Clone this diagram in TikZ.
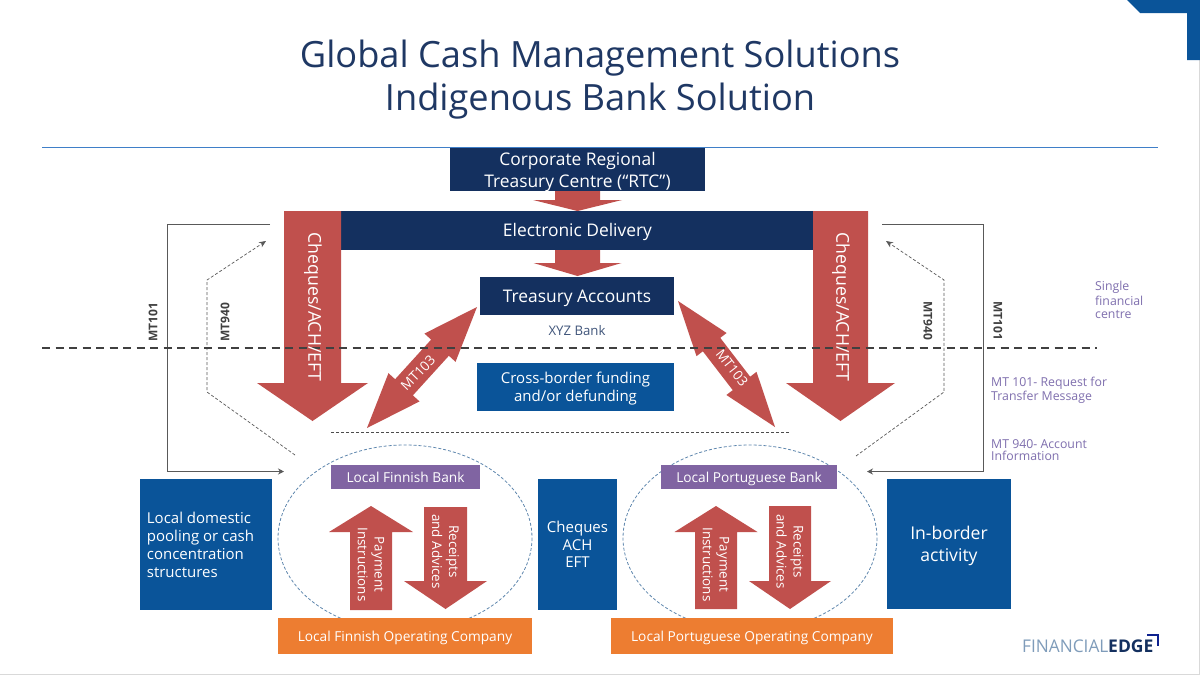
\documentclass[tikz,border=0pt]{standalone}
\usepackage{fontspec}
\setmainfont{Open Sans}
\usetikzlibrary{calc,arrows.meta}
\definecolor{navy}{HTML}{14305F}
\definecolor{bluebox}{HTML}{0A5499}
\definecolor{redarrow}{HTML}{C0504D}
\definecolor{orangebox}{HTML}{ED7D31}
\definecolor{purplebox}{HTML}{8064A2}
\definecolor{notetxt}{HTML}{7F6FAE}
\definecolor{rulecol}{HTML}{3F7FC8}
\definecolor{ringcol}{HTML}{5F87AE}
\definecolor{titlecol}{HTML}{1F3864}
\definecolor{logolight}{HTML}{7F9CBA}
\newcommand{\fsz}[1]{\fontsize{#1}{#1}\selectfont}
\newcommand{\fatarrow}[5]{%
  \coordinate (H) at ($(#2)!#5!(#1)$);
  \fill[redarrow] ($(#1)!#3/2!90:(#2)$) -- ($(H)!#3/2!90:(#2)$) -- ($(H)!#4/2!90:(#2)$) -- (#2)
    -- ($(H)!#4/2!-90:(#2)$) -- ($(H)!#3/2!-90:(#2)$) -- ($(#1)!#3/2!-90:(#2)$) -- cycle;}
\newcommand{\dblarrow}[5]{%
  \coordinate (H) at ($(#2)!#5!(#1)$);
  \coordinate (K) at ($(#1)!#5!(#2)$);
  \fill[redarrow] (#1) -- ($(K)!#4/2!90:(#2)$) -- ($(K)!#3/2!90:(#2)$) -- ($(H)!#3/2!90:(#2)$) -- ($(H)!#4/2!90:(#2)$) -- (#2)
    -- ($(H)!#4/2!-90:(#2)$) -- ($(H)!#3/2!-90:(#2)$) -- ($(K)!#3/2!-90:(#2)$) -- ($(K)!#4/2!-90:(#2)$) -- cycle;}
\tikzset{
  x=1pt,y=-1pt,
  boxbase/.style={inner sep=0pt,outer sep=0pt,text=white,align=center,font=\fsz{#1},text depth=0pt},
  navybox/.style={boxbase=17.4,fill=navy},
  bluesq/.style={boxbase=15,fill=bluebox},
  purpbox/.style={boxbase=13.7,fill=purplebox,minimum height=24pt},
  orabox/.style={boxbase=13.7,fill=orangebox,minimum height=36pt},
  ring/.style={draw=ringcol,densely dashed,line width=0.8pt},
  arrowtxt/.style={text=white,inner sep=0pt,align=center},
  mtlabel/.style={text=black!75,font=\fsz{12}\bfseries,inner sep=0pt},
  notelabel/.style={text=notetxt,font=\fsz{12.3},anchor=west,align=left,inner sep=0pt},
  msgsolid/.style={draw=black!65,line width=0.8pt,-{Stealth[length=6pt,width=6pt]}},
  msgdash/.style={draw=black!65,line width=0.7pt,densely dashed,-{Stealth[length=7pt,width=6pt]}},
}
\begin{document}
\begin{tikzpicture}
\useasboundingbox (0,0) rectangle (1200,675);
\fill[white] (0,0) rectangle (1200,675);
\draw[black!15,line width=1pt] (1199.5,60) -- (1199.5,674.5) -- (0,674.5);
\fill[bluebox] (1127,0) -- (1200,0) -- (1200,60) -- (1187,60) -- (1187,13) -- (1140,13) -- cycle;

% title
\node[text=titlecol,font=\fsz{36.2},inner sep=0pt] (title1) at (600,58.5) {Global Cash Management Solutions};
\node[text=titlecol,font=\fsz{36.2},inner sep=0pt] (title2) at (600,101.5) {Indigenous Bank Solution};
\coordinate (ruleL) at (42,147); \coordinate (ruleR) at (1158,147);
\draw[draw=rulecol,line width=1pt] (ruleL) -- (ruleR);

% rings
\draw[ring] (405,538) ellipse [x radius=127,y radius=93];
\draw[ring] (750,538) ellipse [x radius=127,y radius=93];

% navy boxes
\node[navybox,minimum width=255pt,minimum height=43pt] (rtc) at (577.5,169.5) {Corporate Regional\\[4.5pt]Treasury Centre (“RTC”)};
\node[navybox,minimum width=473pt,minimum height=39pt] (delivery) at (577.5,230) {Electronic Delivery};
\node[navybox,minimum width=194pt,minimum height=38pt] (treasury) at (577,296) {Treasury Accounts};
\node[font=\fsz{13.2},inner sep=0pt,text=titlecol!85] (xyz) at (577,331) {XYZ Bank};
\node[boxbase=15,fill=bluebox,minimum width=197pt,minimum height=48pt] (cross) at (575.5,387) {Cross-border funding\\[2pt]and/or defunding};

% blue squares
\node[bluesq,minimum width=132pt,minimum height=131pt,align=left] (dom) at (206,544.5) {Local domestic\\[3pt]pooling or cash\rule{11pt}{0pt}\\[3pt]concentration\\[3pt]structures};
\node[bluesq,minimum width=79pt,minimum height=131pt] (chq) at (577.5,544.5) {Cheques\\[2.5pt]ACH\\[2.5pt]EFT};
\node[boxbase=17.6,fill=bluebox,minimum width=124pt,minimum height=130pt] (inb) at (949,544) {In-border\\[4pt]activity};

% bank and company boxes
\node[purpbox,minimum width=149pt] (fbank) at (405.5,477) {Local Finnish Bank};
\node[purpbox,minimum width=176pt] (pbank) at (749,477) {Local Portuguese Bank};
\node[orabox,minimum width=254pt] (fco) at (405,636) {Local Finnish Operating Company};
\node[orabox,minimum width=282pt] (pco) at (752,636) {Local Portuguese Operating Company};

% big red arrows
\coordinate (a1s) at (577.5,191); \coordinate (a1e) at (577.5,211);
\coordinate (a2s) at (577.5,250); \coordinate (a2e) at (577.5,276);
\fatarrow{a1s}{a1e}{45pt}{89pt}{11pt}
\fatarrow{a2s}{a2e}{45pt}{88pt}{13pt}
\coordinate (cl1) at (312.5,211); \coordinate (cl2) at (312.5,421);
\coordinate (cr1) at (840.5,211); \coordinate (cr2) at (840.5,421);
\fatarrow{cl1}{cl2}{57pt}{111pt}{38pt}
\fatarrow{cr1}{cr2}{55pt}{109pt}{38pt}
\coordinate (ml1) at (367,428); \coordinate (ml2) at (477,307);
\coordinate (mr1) at (678,301); \coordinate (mr2) at (775,427);
\dblarrow{ml1}{ml2}{24pt}{42pt}{55pt}
\dblarrow{mr1}{mr2}{22pt}{38pt}{55pt}

% local arrows
\coordinate (u1s) at (371,610); \coordinate (u1e) at (371,506);
\coordinate (d1s) at (445.5,507); \coordinate (d1e) at (445.5,609);
\coordinate (u2s) at (716,609); \coordinate (u2e) at (716,506);
\coordinate (d2s) at (790,506); \coordinate (d2e) at (790,609);
\fatarrow{u1s}{u1e}{42pt}{84pt}{26pt}
\fatarrow{d1s}{d1e}{43pt}{83pt}{28pt}
\fatarrow{u2s}{u2e}{42pt}{83pt}{26pt}
\fatarrow{d2s}{d2e}{42pt}{82pt}{28pt}

% thin dashed
\coordinate (tdL) at (331,432); \coordinate (tdR) at (790,432);
\draw[black!70,line width=0.6pt,densely dashed] (tdL) -- (tdR);

% message lines
\coordinate (s1a) at (270,224); \coordinate (s1b) at (167,224); \coordinate (s1c) at (167,471.5); \coordinate (s1d) at (284,471.5);
\draw[msgsolid] (s1a) -- (s1b) -- (s1c) -- (s1d);
\coordinate (s2a) at (882,224); \coordinate (s2b) at (983,224); \coordinate (s2c) at (983,471.5); \coordinate (s2d) at (867,471.5);
\draw[msgsolid] (s2a) -- (s2b) -- (s2c) -- (s2d);
\coordinate (d1a) at (295,455); \coordinate (d1b) at (207,392); \coordinate (d1c) at (207,280); \coordinate (d1d) at (266,241);
\draw[msgdash] (d1a) -- (d1b) -- (d1c) -- (d1d);
\coordinate (d2a) at (856,456); \coordinate (d2b) at (944,392); \coordinate (d2c) at (944,280); \coordinate (d2d) at (886,241);
\draw[msgdash] (d2a) -- (d2b) -- (d2c) -- (d2d);

% border line
\coordinate (bdL) at (42,348); \coordinate (bdR) at (1097,348);
\draw[black!75,line width=1.3pt,dash pattern=on 8pt off 5.5pt] (bdL) -- (bdR);

% arrow labels
\node[arrowtxt,font=\fsz{17.7},rotate=-90] (tcl) at (313,307) {Cheques/ACH/EFT};
\node[arrowtxt,font=\fsz{17.7},rotate=-90] (tcr) at (841,307) {Cheques/ACH/EFT};
\node[arrowtxt,font=\fsz{13.5},rotate=46] (tm1) at (418,373) {MT103};
\node[arrowtxt,font=\fsz{13.5},rotate=-52] (tm2) at (732,368) {MT103};
\node[arrowtxt,font=\fsz{13.4},rotate=-90] (tp1) at (371,564.5) {Payment\\[3.5pt]Instructions};
\node[arrowtxt,font=\fsz{13.4},rotate=-90] (tr1) at (445.5,551.5) {Receipts\\[3.5pt]and Advices};
\node[arrowtxt,font=\fsz{13.4},rotate=-90] (tp2) at (716,564.5) {Payment\\[3.5pt]Instructions};
\node[arrowtxt,font=\fsz{13.4},rotate=-90] (tr2) at (790,551.5) {Receipts\\[3.5pt]and Advices};

% MT labels
\node[mtlabel,rotate=90] (m1) at (153,322) {MT101};
\node[mtlabel,rotate=90] (m2) at (225,322) {MT940};
\node[mtlabel,rotate=-90] (m3) at (928,321) {MT940};
\node[mtlabel,rotate=-90] (m4) at (998,321) {MT101};

% notes
\node[notelabel] (n1) at (1095,300) {Single\\[1pt]financial\\[1pt]centre};
\node[notelabel] (n2) at (991,390.5) {MT 101- Request for\\[1pt]Transfer Message};
\node[notelabel] (n3) at (991,450) {MT 940- Account\\[0pt]Information};

% logo
\node[anchor=base west,inner sep=0pt,text=logolight,font=\fsz{17.5},xscale=0.985] (lg1) at (1022,652) {FINANCIAL};
\node[anchor=base west,inner sep=0pt,text=navy,font=\fsz{17.5}\bfseries,xscale=1] (lg2) at (1108,652) {EDGE};
\draw[navy!70!blue,line width=1.5pt] (1147,635) -- (1158,635) -- (1158,646);
\end{tikzpicture}
\end{document}
